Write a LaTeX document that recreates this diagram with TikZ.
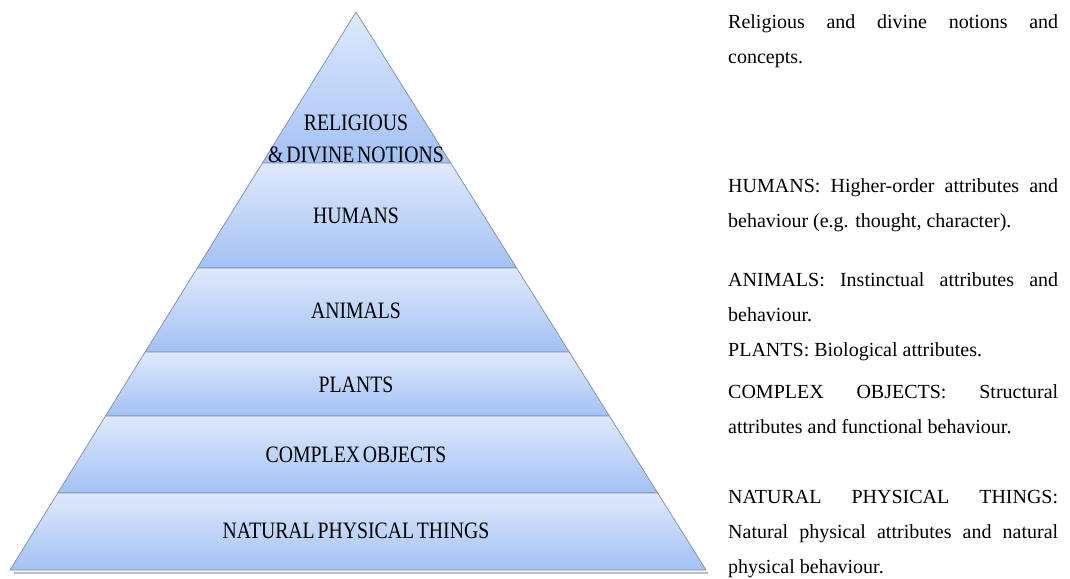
\documentclass[tikz,border=0pt]{standalone}
\usepackage{fontspec}
\setmainfont{Liberation Serif}
\newfontfamily\narrowserif[FakeStretch=0.84]{Liberation Serif}
\usetikzlibrary{calc,positioning}
\definecolor{BandTop}{HTML}{DFE9FB}
\definecolor{BandBot}{HTML}{A3C1F5}
\definecolor{BandLine}{HTML}{7D8CA6}
\definecolor{Shadow}{HTML}{BDBDBD}

\begin{document}
\begin{tikzpicture}[x=1pt,y=-1pt,
    band/.style={draw=BandLine, line width=0.7pt, top color=BandTop, bottom color=BandBot},
    level/.style={font={\narrowserif\fontsize{23.5}{32}\selectfont\spaceskip=0.12em\relax}, inner sep=0pt, align=center},
    note/.style={font={\fontsize{20}{35}\selectfont\tolerance=10000\hyphenpenalty=10000\relax}, text width=330pt, align=justify, inner sep=0pt, anchor=base west}]
  \useasboundingbox (0,0) rectangle (1070,578);
  % pyramid outline
  \coordinate (apex) at (356,12);
  \coordinate (bl) at (10,570);
  \coordinate (br) at (706,570);
  \draw[Shadow, line width=2.5pt] ($(bl)+(4,3)$) -- ($(br)+(2,3)$);
  \foreach \ta/\tb in {0/0.2706, 0.2706/0.4588, 0.4588/0.6093, 0.6093/0.7240, 0.7240/0.8620, 0.8620/1}
    \draw[band] ($(apex)!\ta!(bl)$) -- ($(apex)!\tb!(bl)$) -- ($(apex)!\tb!(br)$) -- ($(apex)!\ta!(br)$) -- cycle;

  % levels
  \node[level] (religious) at (356,139) {RELIGIOUS\\\& DIVINE NOTIONS};
  \node[level] (humans) at (356,216) {HUMANS};
  \node[level] (animals) at (356,311) {ANIMALS};
  \node[level] (plants) at (356,385) {PLANTS};
  \node[level] (complex) at (356,455) {COMPLEX OBJECTS};
  \node[level] (natural) at (356,531) {NATURAL PHYSICAL THINGS};

  % descriptions
  \node[note] (religiousnote) at (728,29) {Religious and divine notions and\linebreak concepts.};
  \node[note] (humansnote) at (728,192) {HUMANS: Higher-order attributes and\linebreak behaviour (e.g. thought, character).};
  \node[note] (animalsnote) at (728,286) {ANIMALS: Instinctual attributes and\linebreak behaviour.};
  \node[note] (plantsnote) at (728,356) {PLANTS: Biological attributes.};
  \node[note] (complexnote) at (728,398) {COMPLEX OBJECTS: Structural\linebreak attributes and functional behaviour.};
  \node[note] (naturalnote) at (728,503) {NATURAL PHYSICAL THINGS:\linebreak Natural physical attributes and natural\linebreak physical behaviour.};
\end{tikzpicture}
\end{document}
